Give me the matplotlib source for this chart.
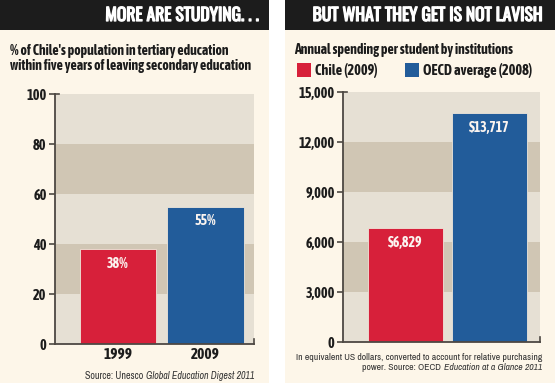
import matplotlib
matplotlib.use("Agg")
import matplotlib.pyplot as plt
import matplotlib.patheffects as pe
from matplotlib import font_manager
from matplotlib.patches import Rectangle

# data
years = ["1999", "2009"]
enrol_pct = [38, 55]
enrol_labels = ["38%", "55%"]

spend_groups = ["Chile (2009)", "OECD average (2008)"]
spend_usd = [6829, 13717]
spend_labels = ["$6,829", "$13,717"]

pct_ticks = [0, 20, 40, 60, 80, 100]
usd_ticks = [0, 3000, 6000, 9000, 12000, 15000]
usd_ticklabels = ["0", "3,000", "6,000", "9,000", "12,000", "15,000"]

RED = "#d7203a"
BLUE = "#225c9a"
CREAM = "#fdf6e9"
BAND_LIGHT = "#e6e0d4"
BAND_DARK = "#d0c6b4"
INK = "#1c1c1c"
SPINE = "#4d4843"

# pick condensed faces if present, otherwise DejaVu
names = {f.name for f in font_manager.fontManager.ttflist}


def pick(prefs):
    for n in prefs:
        if n in names:
            return n
    return "DejaVu Sans"


HEAD = [pick(["Oswald", "Barlow Condensed", "Asap Condensed"]), "DejaVu Sans"]
BOLD = [pick(["Asap Condensed", "Barlow Condensed"]), "DejaVu Sans"]
THIN = [pick(["Archivo Narrow", "Asap Condensed"]), "DejaVu Sans"]

plt.rcParams["font.family"] = BOLD

W, H = 555, 385
fig = plt.figure(figsize=(W / 100, H / 100), dpi=100)
fig.patch.set_facecolor("white")
renderer = fig.canvas.get_renderer()


def box(x0, y0, x1, y1):
    # pixel box (top-left origin) -> figure fraction rect
    return [x0 / W, 1 - y1 / H, (x1 - x0) / W, (y1 - y0) / H]


def fx(x):
    return x / W


def fy(y):
    return 1 - y / H


def rect(x0, y0, x1, y1, col, z=-2):
    b = box(x0, y0, x1, y1)
    fig.patches.append(Rectangle((b[0], b[1]), b[2], b[3], transform=fig.transFigure,
                                 facecolor=col, edgecolor="none", zorder=z))


def source_line(x_right, y, plain, italic, size):
    # right-aligned line with an italic tail
    t = fig.text(fx(x_right), fy(y), italic, fontsize=size, family=THIN, style="italic",
                 color="#333333", ha="right", va="center")
    left = t.get_window_extent(renderer).x0
    fig.text((left - 3) / W, fy(y), plain, fontsize=size, family=THIN,
             color="#333333", ha="right", va="center")


# panel backgrounds and black headers
for x0, x1 in [(0, 269), (285, 555)]:
    rect(x0, 0, x1, 383, CREAM)
    rect(x0, 0, x1, 30, INK, z=-1)

thick = [pe.withStroke(linewidth=0.9, foreground="white")]
fig.text(fx(259), fy(15.5), "MORE ARE STUDYING. . .", color="white", fontsize=12.6,
         family=HEAD, ha="right", va="center", path_effects=thick)
fig.text(fx(543), fy(15.5), "BUT WHAT THEY GET IS NOT LAVISH", color="white", fontsize=12.6,
         family=HEAD, ha="right", va="center", path_effects=thick)

fig.text(fx(10), fy(51), "% of Chile's population in tertiary education", fontsize=10,
         fontweight="bold", color=INK, ha="left", va="center")
fig.text(fx(10), fy(66), "within five years of leaving secondary education", fontsize=10,
         fontweight="bold", color=INK, ha="left", va="center")
fig.text(fx(294), fy(50), "Annual spending per student by institutions", fontsize=10,
         fontweight="bold", color=INK, ha="left", va="center")

# legend squares
for (x0, col, lab) in [(297, RED, spend_groups[0]), (405, BLUE, spend_groups[1])]:
    rect(x0, 63, x0 + 14, 77, col, z=1)
    fig.text(fx(x0 + 18), fy(71), lab, fontsize=10.3, fontweight="bold", color=INK,
             ha="left", va="center")


def style_axis(ax, ticks, top, step):
    ax.set_facecolor("none")
    for i, lo in enumerate(ticks[:-1]):
        ax.axhspan(lo, lo + step, color=BAND_DARK if i % 2 else BAND_LIGHT, lw=0, zorder=1)
    ax.set_ylim(0, top)
    ax.set_yticks(ticks)
    for s in ["top", "right"]:
        ax.spines[s].set_visible(False)
    for s in ["left", "bottom"]:
        ax.spines[s].set_color(SPINE)
        ax.spines[s].set_linewidth(1.3)
        ax.spines[s].set_zorder(4)
    ax.tick_params(axis="y", length=4, width=1.2, color=SPINE, pad=2,
                   labelsize=10.3, labelcolor=INK)
    # small end caps like the print graphic
    ax.plot([0, 0.02], [1, 1], transform=ax.transAxes, color=SPINE, lw=1.2, clip_on=False, zorder=5)
    ax.plot([1, 1], [0, 0.02], transform=ax.transAxes, color=SPINE, lw=1.2, clip_on=False, zorder=5)


# left chart
ax1 = fig.add_axes(box(55, 94, 254, 344))
style_axis(ax1, pct_ticks, 100, 20)
ax1.set_yticklabels([str(t) for t in pct_ticks], fontweight="bold")
ax1.set_xlim(-0.72, 1.554)
bars = ax1.bar([0, 1], enrol_pct, width=0.87, color=[RED, BLUE],
               edgecolor="#efe7da", linewidth=0.6, zorder=3)
for b, lab in zip(bars, enrol_labels):
    ax1.annotate(lab, (b.get_x() + b.get_width() / 2, b.get_height()), xytext=(0, -10.5),
                 textcoords="offset points", ha="center", va="center", color="#fbf4f0",
                 fontsize=10, fontweight="bold", zorder=6)
ax1.set_xticks([0, 1])
ax1.set_xticklabels(years, fontsize=11, fontweight="bold", color=INK)
ax1.tick_params(axis="x", length=0, pad=3)

source_line(255, 376, "Source: Unesco", "Global Education Digest 2011", 7.2)

# right chart
ax2 = fig.add_axes(box(343, 92, 540, 342))
style_axis(ax2, usd_ticks, 15000, 3000)
ax2.set_yticklabels(usd_ticklabels, fontweight="bold")
ax2.set_xlim(-0.744, 1.60)
bars = ax2.bar([0, 1], spend_usd, width=0.89, color=[RED, BLUE],
               edgecolor="#efe7da", linewidth=0.6, zorder=3)
for b, lab in zip(bars, spend_labels):
    ax2.annotate(lab, (b.get_x() + b.get_width() / 2, b.get_height()), xytext=(0, -10.5),
                 textcoords="offset points", ha="center", va="center", color="#fbf4f0",
                 fontsize=10, fontweight="bold", zorder=6)
ax2.set_xticks([])

fig.text(fx(542), fy(357), "In equivalent US dollars, converted to account for relative purchasing",
         fontsize=7, family=THIN, color="#333333", ha="right", va="center")
source_line(542, 368, "power. Source: OECD", "Education at a Glance 2011", 7)

fig.savefig("out.png", dpi=100, facecolor="white")
